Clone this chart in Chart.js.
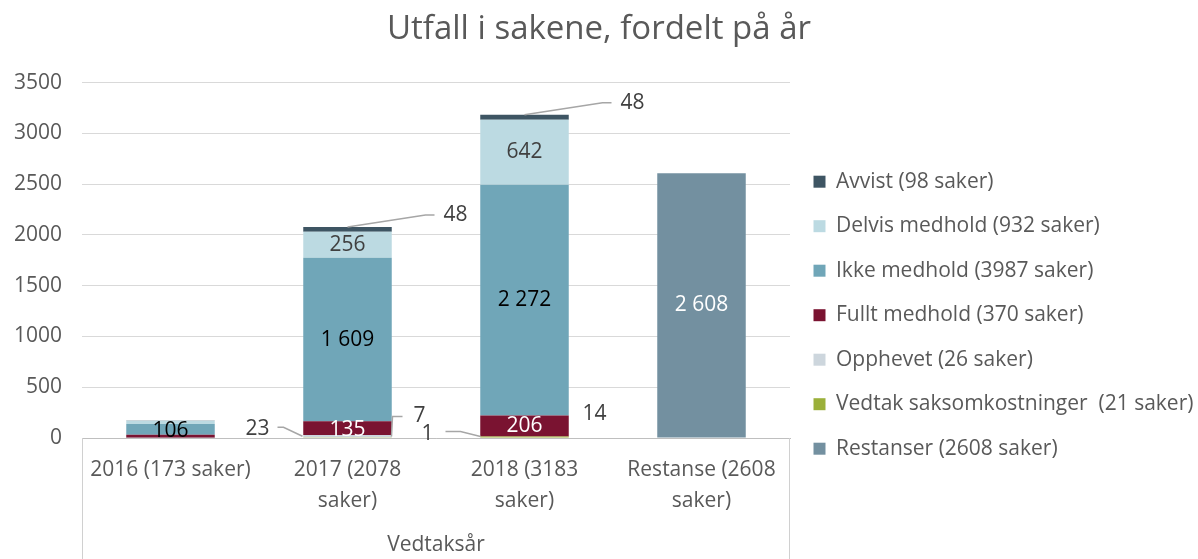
<!DOCTYPE html>
<html>
<head>
<meta charset="utf-8">
<script src="https://cdn.jsdelivr.net/npm/chart.js@4.4.1/dist/chart.umd.min.js"></script>
<style>
  html, body { margin: 0; padding: 0; background: #fff; }
  #wrap { width: 1198px; height: 559px; }
</style>
</head>
<body>
<div id="wrap"><canvas id="chart"></canvas></div>
<script>
//.. data
const categories = [['2016 (173 saker)'], ['2017 (2078', 'saker)'], ['2018 (3183', 'saker)'], ['Restanse (2608', 'saker)']];
const restanser = [0, 0, 0, 2608];
const vedtakSaksomkostninger = [0, 7, 14, 0];
const opphevet = [2, 23, 1, 0];
const fulltMedhold = [29, 135, 206, 0];
const ikkeMedhold = [106, 1609, 2272, 0];
const delvisMedhold = [34, 256, 642, 0];
const avvist = [2, 48, 48, 0];
const yMin = 0, yMax = 3500, yStep = 500;

const grey = '#595959';
const fontName = 'Open Sans';
Chart.defaults.font.family = fontName;

//.. which segments get a label inside the bar: [dataset, category, colour]
const insideLabels = [
    [4, 0, '#000000'],
    [3, 1, '#ffffff'], [4, 1, '#000000'], [5, 1, '#404040'],
    [3, 2, '#ffffff'], [4, 2, '#000000'], [5, 2, '#404040'],
    [0, 3, '#ffffff']
];
//.. labels outside the bar with leader lines: [dataset, category, anchor, leader points, text pos, align]
//.. offsets are relative to bar centre x and bar top (y) / base
const outsideLabels = [
    [6, 1, 'top', [[0, 0], [78, -12], [87, -12]], [96, -12], 'left'],
    [6, 2, 'top', [[0, 0], [78, -12], [87, -12]], [96, -12], 'left'],
    [2, 1, 'base', [[-45, -1], [-64, -10], [-70, -10]], [-78, -8], 'right'],
    [1, 1, 'base', [[44, -1], [45, -21], [55, -21]], [66, -21], 'left'],
    [2, 2, 'base', [[-44, 0], [-64, -5], [-79, -5]], [-91, -3], 'right'],
    [1, 2, 'base', null, [58, -23], 'left']
];

function fmt(n) {
    return String(n).replace(/\B(?=(\d{3})+(?!\d))/g, ' ');
}

const labelPlugin = {
    id: 'labels',
    afterDatasetsDraw(chart) {
        const ctx = chart.ctx;
        ctx.save();
        ctx.font = '21px "' + fontName + '"';
        ctx.textBaseline = 'middle';
        insideLabels.forEach(function (l) {
            const el = chart.getDatasetMeta(l[0]).data[l[1]];
            const v = chart.data.datasets[l[0]].data[l[1]];
            ctx.fillStyle = l[2];
            ctx.textAlign = 'center';
            let y = (el.y + el.base) / 2;
            if (el.base - el.y < 16) y += 2;
            ctx.fillText(fmt(v), el.x, y);
        });
        outsideLabels.forEach(function (l) {
            const el = chart.getDatasetMeta(l[0]).data[l[1]];
            const v = chart.data.datasets[l[0]].data[l[1]];
            const yRef = l[2] === 'top' ? chart.getDatasetMeta(6).data[l[1]].y : el.base;
            if (l[3]) {
                ctx.strokeStyle = '#a6a6a6';
                ctx.lineWidth = 1.5;
                ctx.beginPath();
                l[3].forEach(function (p, i) {
                    const px = el.x + p[0], py = yRef + p[1];
                    if (i === 0) ctx.moveTo(px, py); else ctx.lineTo(px, py);
                });
                ctx.stroke();
            }
            ctx.fillStyle = '#404040';
            ctx.textAlign = l[5];
            ctx.fillText(fmt(v), el.x + l[4][0], yRef + l[4][1]);
        });
        ctx.restore();
    }
};

//.. vertical lines framing the category axis
const framePlugin = {
    id: 'frame',
    afterDraw(chart) {
        const ctx = chart.ctx, a = chart.chartArea;
        ctx.save();
        ctx.strokeStyle = '#d0d0d0';
        ctx.lineWidth = 1;
        ctx.beginPath();
        ctx.moveTo(a.left + 0.5, a.bottom);
        ctx.lineTo(a.left + 0.5, chart.height);
        ctx.moveTo(a.right - 0.5, a.bottom);
        ctx.lineTo(a.right - 0.5, chart.height);
        ctx.stroke();
        ctx.restore();
    }
};

function ds(label, data, color) {
    return {label: label, data: data, backgroundColor: color, borderWidth: 0,
        barPercentage: 0.5, categoryPercentage: 1};
}

const ctx = document.getElementById('chart').getContext('2d');
new Chart(ctx, {
    type: 'bar',
    data: {
        labels: categories,
        datasets: [
            ds('Restanser (2608 saker)', restanser, '#7390a0'),
            ds('Vedtak saksomkostninger  (21 saker)', vedtakSaksomkostninger, '#9bb03a'),
            ds('Opphevet (26 saker)', opphevet, '#cdd6dd'),
            ds('Fullt medhold (370 saker)', fulltMedhold, '#7a1331'),
            ds('Ikke medhold (3987 saker)', ikkeMedhold, '#70a6b8'),
            ds('Delvis medhold (932 saker)', delvisMedhold, '#bcdae2'),
            ds('Avvist (98 saker)', avvist, '#3e5563')
        ]
    },
    options: {
        responsive: true,
        maintainAspectRatio: false,
        animation: false,
        layout: {padding: 0},
        plugins: {
            title: {
                display: true,
                text: 'Utfall i sakene, fordelt på år',
                color: grey,
                font: {size: 33, weight: 'normal'},
                padding: {top: 10, bottom: 33}
            },
            legend: {
                position: 'right',
                reverse: true,
                maxWidth: 408,
                title: {display: true, text: '', padding: {top: 57, bottom: 0}},
                labels: {
                    boxWidth: 12,
                    boxHeight: 12,
                    padding: 23.5,
                    color: grey,
                    font: {size: 21}
                }
            },
            tooltip: {enabled: false}
        },
        scales: {
            x: {
                stacked: true,
                grid: {display: false, drawTicks: false},
                border: {color: '#bfbfbf', width: 1},
                ticks: {color: grey, font: {size: 21, lineHeight: 1.5}, padding: 16, maxRotation: 0},
                title: {display: true, text: 'Vedtaksår', color: grey, font: {size: 21}, padding: {top: 0, bottom: 1}},
                afterFit: function (scale) { scale.height = 121; }
            },
            y: {
                stacked: true,
                min: yMin,
                max: yMax,
                grid: {color: '#d9d9d9', drawTicks: false},
                border: {display: false},
                ticks: {stepSize: yStep, color: grey, font: {size: 21}, padding: 20,
                    callback: function (v) { return String(v); }},
                afterFit: function (scale) { scale.width = 82; }
            }
        }
    },
    plugins: [labelPlugin, framePlugin]
});
</script>
</body>
</html>
